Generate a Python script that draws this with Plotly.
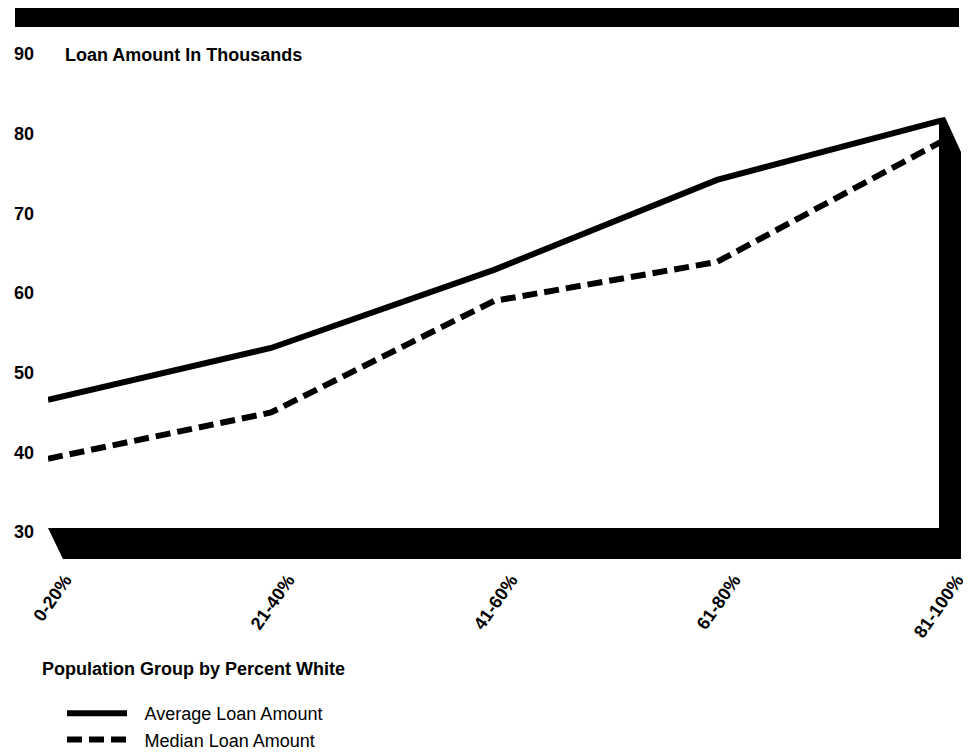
import plotly.graph_objects as go

# ---- data ----
categories = ["0-20%", "21-40%", "41-60%", "61-80%", "81-100%"]
average_loan = [46.6, 53.1, 62.9, 74.2, 81.6]
median_loan = [39.2, 45.0, 59.0, 63.9, 78.9]
y_ticks = [30, 40, 50, 60, 70, 80, 90]

# page has an 8px body margin: figure drawn at offset (8, 8)
OFF = 8
W, H = 971 - OFF, 753 - OFF
# plot area in screen pixels: x 48..967, y 54..532
ML, MR, MT, MB = 48 - OFF, 4, 54 - OFF, 753 - 532
PW = W - ML - MR
PH = H - MT - MB
X_UNIT = 223.0  # px per category step
x_max = PW / X_UNIT
label_shift = 17 / X_UNIT

FONT = "Liberation Sans, Arial, Helvetica, sans-serif"


def px(x, y):
    """screen pixel -> paper coords"""
    fx, fy = x - OFF, y - OFF
    return (fx - ML) / PW, (H - MB - fy) / PH


def path(points):
    s = ""
    for i, (x, y) in enumerate(points):
        u, v = px(x, y)
        s += ("M" if i == 0 else "L") + f"{u:.5f},{v:.5f} "
    return s + "Z"


xs = list(range(len(categories)))

fig = go.Figure()
fig.add_trace(go.Scatter(
    x=xs, y=average_loan, mode="lines", name="\u2002\u2009Average Loan Amount",
    line=dict(color="black", width=6), cliponaxis=False))
fig.add_trace(go.Scatter(
    x=xs, y=median_loan, mode="lines", name="\u2002\u2009Median Loan Amount",
    line=dict(color="black", width=6, dash="15px,7px"), cliponaxis=False))

shapes = []
# top band
shapes.append(dict(type="path", xref="paper", yref="paper",
                   path=path([(15, 8), (959, 8), (959, 27), (15, 27)]),
                   fillcolor="black", line=dict(width=0), layer="below"))
# floor + right wall
shapes.append(dict(type="path", xref="paper", yref="paper",
                   path=path([(48, 528), (939, 528), (939, 118), (945, 117),
                              (961, 152), (961, 559), (63, 559)]),
                   fillcolor="black", line=dict(width=0), layer="below"))

ax, ay = px(63, 55)
bx, by = px(40, 669)
annotations = [
    dict(text="<b>Loan Amount In Thousands</b>", xref="paper", yref="paper",
         x=ax, y=ay, xanchor="left", yanchor="middle", showarrow=False,
         font=dict(family=FONT, size=18, color="black")),
    dict(text="<b>Population Group by Percent White</b>", xref="paper", yref="paper",
         x=bx, y=by, xanchor="left", yanchor="middle", showarrow=False,
         font=dict(family=FONT, size=18, color="black")),
]

lx, ly = px(62, 695)
fig.update_layout(
    width=W, height=H,
    margin=dict(l=ML, r=MR, t=MT, b=MB, autoexpand=False),
    paper_bgcolor="white", plot_bgcolor="white",
    font=dict(family=FONT, size=18, color="black"),
    showlegend=True,
    legend=dict(x=lx, y=ly, xanchor="left", yanchor="top",
                bgcolor="rgba(0,0,0,0)", font=dict(size=18), itemwidth=60,
                tracegroupgap=0),
    xaxis=dict(range=[0, x_max], tickmode="array",
               tickvals=[i + label_shift for i in xs],
               ticktext=[f"<b>{c}</b>" for c in categories],
               tickangle=-55, showgrid=False, zeroline=False, showline=False,
               ticks="", ticklabelstandoff=33, fixedrange=True),
    yaxis=dict(range=[30, 90], tickmode="array", tickvals=y_ticks,
               ticktext=[f"<b>{v}</b>" for v in y_ticks],
               showgrid=False, zeroline=False, showline=False, ticks="",
               ticklabelstandoff=13, fixedrange=True),
    shapes=shapes, annotations=annotations,
)

fig.write_html("out.html")
